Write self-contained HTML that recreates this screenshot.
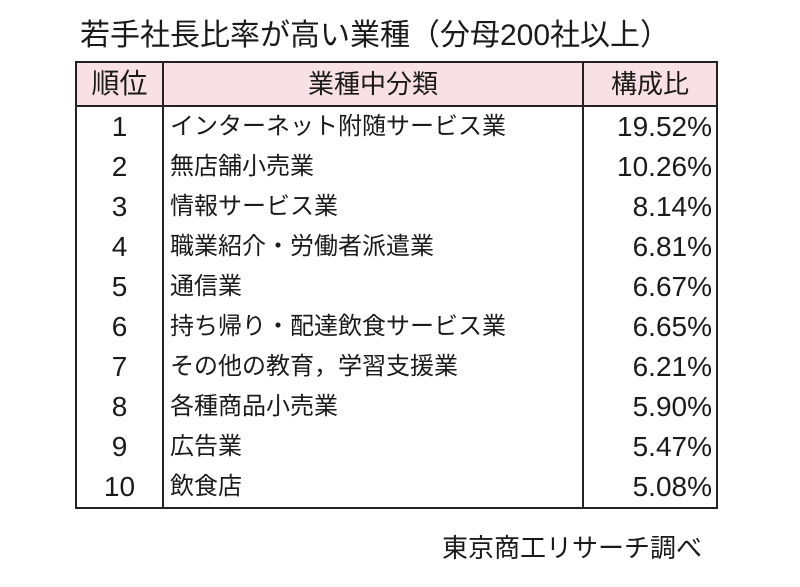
<!DOCTYPE html>
<html><head><meta charset="utf-8"><style>
body{margin:0;width:800px;height:587px;background:#fff;position:relative;overflow:hidden;font-family:"Liberation Sans","Noto Sans CJK JP",sans-serif;color:#1a1a1a}
.t{position:absolute;left:80px;top:16px;font-size:30px;line-height:40px;white-space:nowrap}
table{position:absolute;left:75px;top:61px;border-collapse:collapse;font-size:24px}
td,th{padding:0;height:40px;line-height:40px;font-weight:normal}
th{background:#f9e0e4;height:42px;border-bottom:2px solid #222;font-size:26px}
table{border:2px solid #222}
.c1{width:85px;text-align:center;border-right:2px solid #222;font-size:28px}
.c2{width:412px;text-align:left;padding-left:6px;border-right:2px solid #222}
th.c2{text-align:center;padding-left:0;width:418px}
.c3{width:128px;text-align:right;padding-right:4px;font-size:28px}
th.c3{text-align:center;padding-right:0;font-size:26px}
.f{position:absolute;left:442px;top:530px;font-size:26px;line-height:36px;white-space:nowrap}
</style></head><body>
<div class="t">若手社長比率が高い業種（分母200社以上）</div>
<table>
<tr><th class="c1">順位</th><th class="c2">業種中分類</th><th class="c3">構成比</th></tr>
<tr><td class="c1">1</td><td class="c2">インターネット附随サービス業</td><td class="c3">19.52%</td></tr>
<tr><td class="c1">2</td><td class="c2">無店舗小売業</td><td class="c3">10.26%</td></tr>
<tr><td class="c1">3</td><td class="c2">情報サービス業</td><td class="c3">8.14%</td></tr>
<tr><td class="c1">4</td><td class="c2">職業紹介・労働者派遣業</td><td class="c3">6.81%</td></tr>
<tr><td class="c1">5</td><td class="c2">通信業</td><td class="c3">6.67%</td></tr>
<tr><td class="c1">6</td><td class="c2">持ち帰り・配達飲食サービス業</td><td class="c3">6.65%</td></tr>
<tr><td class="c1">7</td><td class="c2">その他の教育，学習支援業</td><td class="c3">6.21%</td></tr>
<tr><td class="c1">8</td><td class="c2">各種商品小売業</td><td class="c3">5.90%</td></tr>
<tr><td class="c1">9</td><td class="c2">広告業</td><td class="c3">5.47%</td></tr>
<tr><td class="c1">10</td><td class="c2">飲食店</td><td class="c3">5.08%</td></tr>
</table>
<div class="f">東京商工リサーチ調べ</div>
</body></html>
